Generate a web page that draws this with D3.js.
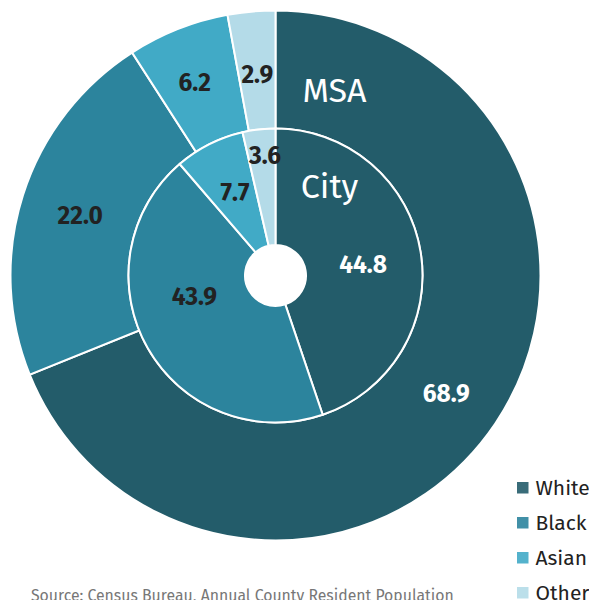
<!DOCTYPE html>
<html>
<head>
<meta charset="utf-8">
<script src="https://cdn.jsdelivr.net/npm/d3@7"></script>
<style>
  body { margin: 0; background: #fff; overflow: hidden; }
  svg { display: block; font-family: "Fira Sans", "Open Sans", "Noto Sans", sans-serif; }
</style>
</head>
<body>
<div id="chart"></div>
<script>
// data
const categories = ["White", "Black", "Asian", "Other"];
const cityValues = [44.8, 43.9, 7.7, 3.6];
const msaValues = [68.9, 22.0, 6.2, 2.9];
const ringLabels = ["City", "MSA"];
const sourceText = "Source: Census Bureau, Annual County Resident Population";

const ctx = {
    w: 589,
    h: 600,
    cx: 275.5,
    cy: 275.5,
    hole: 30.5,
    rInner: 147,
    rOuter: 265,
    // small label nudges (px) off the arc centroid, same order as categories
    cityNudge: [[0, 3.5], [-4, -23], [-0.5, -3.5], [-0.5, -32]],
    msaNudge: [[0, 3], [1, 2], [-5, -2], [0.5, 4]]
};

const colors = d3.scaleOrdinal()
    .domain(categories)
    .range(["#235c6a", "#2c849d", "#41aac6", "#b4dbe8"]);

const svg = d3.select("#chart").append("svg")
    .attr("width", ctx.w)
    .attr("height", ctx.h);

const g = svg.append("g")
    .attr("transform", "translate(" + ctx.cx + "," + ctx.cy + ")");

const pie = d3.pie().sort(null).value(d => d.value);

function drawRing(values, r0, r1, nudge, cls) {
    const data = categories.map((c, i) => ({ cat: c, value: values[i], i: i }));
    const arc = d3.arc().innerRadius(r0).outerRadius(r1);
    const ring = g.append("g").attr("class", cls);
    const arcs = pie(data);
    ring.selectAll("path")
        .data(arcs)
        .enter()
        .append("path")
        .attr("d", arc)
        .attr("fill", d => colors(d.data.cat))
        .attr("stroke", "#fff")
        .attr("stroke-width", 2);
    ring.selectAll("text")
        .data(arcs)
        .enter()
        .append("text")
        .attr("transform", function(d) {
            const c = arc.centroid(d);
            const n = nudge[d.data.i];
            return "translate(" + (c[0] + n[0]) + "," + (c[1] + n[1]) + ")";
        })
        .attr("text-anchor", "middle")
        .attr("dy", "0.35em")
        .style("font-size", "24.5px")
        .style("font-weight", "bold")
        .style("fill", d => d.data.cat == "White" ? "#fff" : "#222")
        .text(d => d.data.value.toFixed(1));
}

drawRing(msaValues, ctx.rInner, ctx.rOuter, ctx.msaNudge, "msa");
drawRing(cityValues, ctx.hole, ctx.rInner, ctx.cityNudge, "city");

// hole
g.append("circle").attr("r", ctx.hole).attr("fill", "#fff");

// ring names
g.append("text")
    .attr("x", 59).attr("y", -174)
    .attr("text-anchor", "middle")
    .style("font-size", "34px")
    .style("fill", "#fff")
    .text(ringLabels[1]);
g.append("text")
    .attr("x", 54).attr("y", -78)
    .attr("text-anchor", "middle")
    .style("font-size", "34px")
    .style("fill", "#fff")
    .text(ringLabels[0]);

// legend
const legend = svg.append("g").attr("transform", "translate(517,487.5)");
const ly = d3.scalePoint().domain(categories).range([0, 105]);
legend.selectAll("rect")
    .data(categories)
    .enter()
    .append("rect")
    .attr("x", 0)
    .attr("y", d => ly(d) - 5.5)
    .attr("width", 11.5)
    .attr("height", 11.5)
    .attr("fill", d => colors(d))
    .style("opacity", 0.9);
legend.selectAll("text")
    .data(categories)
    .enter()
    .append("text")
    .attr("x", 18.5)
    .attr("y", d => ly(d))
    .attr("dy", "0.35em")
    .style("font-size", "21px")
    .style("fill", "#222")
    .text(d => d);

// source
svg.append("text")
    .attr("x", 31)
    .attr("y", 601)
    .style("font-size", "15.8px")
    .style("fill", "#777")
    .text(sourceText);
</script>
</body>
</html>
